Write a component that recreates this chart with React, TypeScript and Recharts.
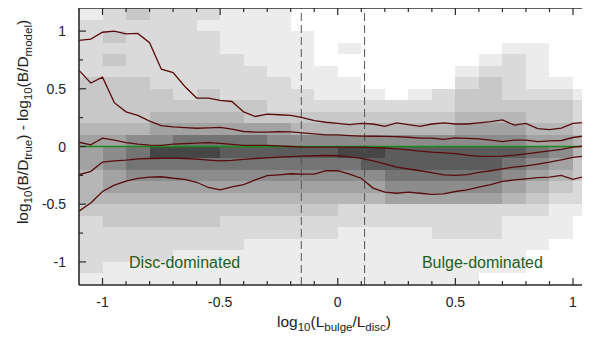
import React from 'react';
import { ComposedChart, Line, XAxis, YAxis, ReferenceArea, ReferenceLine, ReferenceDot } from 'recharts';

// x positions of the percentile curves
const xs = [-1.1, -1.05, -1, -0.95, -0.9, -0.85, -0.8, -0.75, -0.7, -0.65, -0.6, -0.55, -0.5, -0.45, -0.4, -0.35, -0.3, -0.25, -0.2, -0.15, -0.1, -0.05, 0, 0.05, 0.1, 0.15, 0.2, 0.25, 0.3, 0.35, 0.4, 0.45, 0.5, 0.55, 0.6, 0.65, 0.7, 0.75, 0.8, 0.85, 0.9, 0.95, 1, 1.05, 1.068];
const upper2 = [0.92, 0.93, 0.99, 1.0, 0.975, 0.98, 0.9, 0.67, 0.64, 0.52, 0.42, 0.42, 0.4, 0.39, 0.3, 0.26, 0.28, 0.275, 0.27, 0.25, 0.225, 0.21, 0.2, 0.19, 0.2, 0.195, 0.175, 0.205, 0.19, 0.175, 0.195, 0.205, 0.195, 0.195, 0.205, 0.215, 0.23, 0.185, 0.2, 0.155, 0.147, 0.16, 0.2, 0.21, 0.205];
const upper1 = [0.66, 0.55, 0.6, 0.38, 0.3, 0.27, 0.22, 0.18, 0.17, 0.163, 0.158, 0.162, 0.165, 0.15, 0.13, 0.125, 0.124, 0.128, 0.127, 0.118, 0.11, 0.1, 0.1, 0.095, 0.09, 0.089, 0.088, 0.086, 0.08, 0.072, 0.072, 0.062, 0.075, 0.07, 0.066, 0.055, 0.043, 0.055, 0.055, 0.043, 0.048, 0.052, 0.078, 0.092, 0.095];
const median = [0.037, 0.015, 0.072, 0.055, 0.033, 0.02, 0.012, 0.009, 0.02, 0.025, 0.03, 0.033, 0.027, 0.018, 0.01, 0.01, 0.009, 0.005, 0, -0.005, -0.006, -0.006, -0.005, -0.005, -0.006, -0.01, -0.013, -0.02, -0.03, -0.04, -0.049, -0.055, -0.062, -0.075, -0.086, -0.085, -0.083, -0.075, -0.063, -0.05, -0.038, -0.025, -0.006, 0.005, 0.009];
const lower1 = [-0.245, -0.215, -0.135, -0.125, -0.118, -0.108, -0.104, -0.102, -0.101, -0.104, -0.11, -0.118, -0.125, -0.12, -0.112, -0.104, -0.098, -0.092, -0.088, -0.084, -0.08, -0.078, -0.08, -0.09, -0.102, -0.125, -0.15, -0.178, -0.195, -0.21, -0.227, -0.245, -0.25, -0.243, -0.225, -0.21, -0.193, -0.178, -0.168, -0.152, -0.135, -0.115, -0.095, -0.082, -0.078];
const lower2 = [-0.56, -0.49, -0.39, -0.335, -0.3, -0.277, -0.265, -0.262, -0.275, -0.285, -0.31, -0.355, -0.375, -0.35, -0.33, -0.29, -0.253, -0.245, -0.236, -0.24, -0.24, -0.21, -0.21, -0.24, -0.275, -0.36, -0.395, -0.405, -0.395, -0.405, -0.415, -0.41, -0.39, -0.375, -0.352, -0.33, -0.303, -0.29, -0.28, -0.27, -0.265, -0.25, -0.285, -0.26, -0.257];

// 2D histogram: bin edges and density levels (0 = empty .. 9 = densest), rows from top to bottom
const xEdges = [-1.1, -1.0, -0.9, -0.8, -0.7, -0.6, -0.5, -0.4, -0.3, -0.2, -0.1, 0, 0.1, 0.2, 0.3, 0.4, 0.5, 0.6, 0.7, 0.8, 0.9, 1.0, 1.068];
const yEdges = [1.2, 1.1, 1.0, 0.9, 0.8, 0.7, 0.6, 0.5, 0.4, 0.3, 0.2, 0.1, 0, -0.1, -0.2, -0.3, -0.4, -0.5, -0.6, -0.7, -0.8, -0.9, -1.0, -1.1, -1.2];
const densityRows = [
  '1232221110000000000000',
  '2222211110000000000000',
  '2322221111000000000000',
  '2222221111010000001100',
  '2322222111000000012100',
  '2222222211100000122100',
  '3332222221110000232110',
  '3333232222111012332221',
  '3333333322222222333332',
  '3334444333333333444332',
  '4445555554444444555443',
  '5566777766666666666554',
  '5679998888899888888764',
  '5677777777778888887653',
  '4566666666666777776543',
  '4555555555555666665432',
  '4444444444444555554322',
  '3333333333322222222211',
  '2333332222222222221110',
  '2222222222211112221110',
  '2222222111111111111100',
  '2222111111111111111000',
  '2111111111111111111000',
  '1111111111111111100000',
];
const levelGray = [255, 236, 218, 200, 182, 162, 140, 116, 92, 70];

const xDomain = [-1.1, 1.068];
const yDomain = [-1.2, 1.2];
const xTicks = [-1, -0.9, -0.8, -0.7, -0.6, -0.5, -0.4, -0.3, -0.2, -0.1, 0, 0.1, 0.2, 0.3, 0.4, 0.5, 0.6, 0.7, 0.8, 0.9, 1];
const yTicks = [-1, -0.75, -0.5, -0.25, 0, 0.25, 0.5, 0.75, 1];
const dividers = [-0.155, 0.114];
const regionLabels = [
  { x: -0.651, y: -1.05, text: 'Disc-dominated' },
  { x: 0.615, y: -1.05, text: 'Bulge-dominated' },
];

const data = xs.map((x, i) => ({ x, upper2: upper2[i], upper1: upper1[i], median: median[i], lower1: lower1[i], lower2: lower2[i] }));

const FONT = '"Liberation Sans", Arial, Helvetica, sans-serif';
const AX = '#2a2a2a';
const PLOT_W = 510;
const PLOT_H = 277;
const pxX = PLOT_W / (xDomain[1] - xDomain[0]);
const pxY = PLOT_H / (yDomain[1] - yDomain[0]);
const isMajor = (v: number) => Math.abs(v * 2 - Math.round(v * 2)) < 1e-6;
const tickLen = (v: number) => (isMajor(v) ? 7 : 4);
const fmt = (v: number) => String(Math.round(v * 100) / 100);

const BottomTick = (p: any) => {
  const { x, y, payload } = p;
  const major = isMajor(payload.value);
  return (
    <g>
      <line x1={x} x2={x} y1={y} y2={y - tickLen(payload.value)} stroke={AX} strokeWidth={1.2} />
      {major && (
        <text x={x} y={y + 22} textAnchor="middle" fontSize={14} fontFamily={FONT} fill="#222">{fmt(payload.value)}</text>
      )}
    </g>
  );
};
const LeftTick = (p: any) => {
  const { x, y, payload } = p;
  const major = isMajor(payload.value);
  return (
    <g>
      <line x1={x} x2={x + tickLen(payload.value)} y1={y} y2={y} stroke={AX} strokeWidth={1.2} />
      {major && (
        <text x={x - 13} y={y + 5} textAnchor="end" fontSize={14} fontFamily={FONT} fill="#222">{fmt(payload.value)}</text>
      )}
    </g>
  );
};

const XTitle = (p: any) => {
  const vb = p.viewBox || { x: 79, y: 285, width: 510, height: 56 };
  const cx = vb.x + vb.width / 2;
  return (
    <text x={cx} y={vb.y + 42} textAnchor="middle" fontSize={15.5} fontFamily={FONT} fill="#222">
      <tspan>log</tspan>
      <tspan fontSize={11.5} dy={4}>10</tspan>
      <tspan dy={-4}>(L</tspan>
      <tspan fontSize={11.5} dy={4}>bulge</tspan>
      <tspan dy={-4}>/L</tspan>
      <tspan fontSize={11.5} dy={4}>disc</tspan>
      <tspan dy={-4}>)</tspan>
    </text>
  );
};

const YTitle = (p: any) => {
  const vb = p.viewBox || { x: 0, y: 8, width: 79, height: 277 };
  const cx = 28;
  const cy = vb.y + 114;
  return (
    <text x={cx} y={cy} transform={`rotate(-90, ${cx}, ${cy})`} textAnchor="middle" fontSize={15.5} fontFamily={FONT} fill="#222">
      <tspan>log</tspan>
      <tspan fontSize={11.5} dy={4}>10</tspan>
      <tspan dy={-4}>(B/D</tspan>
      <tspan fontSize={11.5} dy={4}>true</tspan>
      <tspan dy={-4}>) - log</tspan>
      <tspan fontSize={11.5} dy={4}>10</tspan>
      <tspan dy={-4}>(B/D</tspan>
      <tspan fontSize={11.5} dy={4}>model</tspan>
      <tspan dy={-4}>)</tspan>
    </text>
  );
};

const RegionText = (text: string) => (p: any) => {
  const vb = p.viewBox || {};
  const cx = vb.cx ?? vb.x;
  const cy = vb.cy ?? vb.y;
  return (
    <text x={cx} y={cy} textAnchor="middle" fontSize={16} fontFamily={FONT} fill="#1f5f1f">{text}</text>
  );
};

const cells: { x1: number; x2: number; y1: number; y2: number; level: number }[] = [];
densityRows.forEach((row, r) => {
  for (let c = 0; c < row.length; c++) {
    const level = Number(row[c]);
    if (level > 0) cells.push({ x1: xEdges[c], x2: xEdges[c + 1], y1: yEdges[r + 1], y2: yEdges[r], level });
  }
});
const grayOf = (level: number) => {
  const g = levelGray[level];
  return `rgb(${g},${g},${g})`;
};

// inward tick marks on the top and right sides of the frame
const tickSegments: { key: string; seg: { x: number; y: number }[] }[] = [];
xTicks.forEach((v, i) => {
  const dy = tickLen(v) / pxY;
  tickSegments.push({ key: `t${i}`, seg: [{ x: v, y: yDomain[1] - dy }, { x: v, y: yDomain[1] }] });
});
yTicks.forEach((v, i) => {
  const dx = tickLen(v) / pxX;
  tickSegments.push({ key: `r${i}`, seg: [{ x: xDomain[1] - dx, y: v }, { x: xDomain[1], y: v }] });
});

const LINE_COLOR = '#5a0c0c';

export default function App() {
  return (
    <div style={{ marginLeft: -8, marginTop: -8, width: 590, height: 341 }}>
      <ComposedChart width={590} height={341} data={data} margin={{ top: 8, right: 1, bottom: 0, left: 0 }}>
        <XAxis
          dataKey="x"
          type="number"
          domain={xDomain}
          allowDataOverflow
          ticks={xTicks}
          interval={0}
          height={56}
          tickSize={0}
          tickMargin={0}
          tickLine={false}
          tick={BottomTick}
          axisLine={false}
          label={<XTitle />}
        />
        <YAxis
          type="number"
          domain={yDomain}
          allowDataOverflow
          ticks={yTicks}
          interval={0}
          width={79}
          tickSize={0}
          tickMargin={0}
          tickLine={false}
          tick={LeftTick}
          axisLine={false}
          label={<YTitle />}
        />
        {cells.map((c, i) => (
          <ReferenceArea
            key={`cell-${i}`}
            x1={c.x1}
            x2={c.x2}
            y1={c.y1}
            y2={c.y2}
            fill={grayOf(c.level)}
            fillOpacity={1}
            stroke="none"
            shapeRendering="crispEdges"
          />
        ))}
        {dividers.map((d) => (
          <ReferenceLine key={`div-${d}`} x={d} stroke="#555" strokeWidth={1} strokeDasharray="8 4" />
        ))}
        <ReferenceLine y={0} stroke="#1a8a1a" strokeWidth={1.5} />
        <Line dataKey="upper2" type="linear" dot={false} stroke={LINE_COLOR} strokeWidth={1.3} isAnimationActive={false} />
        <Line dataKey="upper1" type="linear" dot={false} stroke={LINE_COLOR} strokeWidth={1.3} isAnimationActive={false} />
        <Line dataKey="median" type="linear" dot={false} stroke={LINE_COLOR} strokeWidth={1.3} isAnimationActive={false} />
        <Line dataKey="lower1" type="linear" dot={false} stroke={LINE_COLOR} strokeWidth={1.3} isAnimationActive={false} />
        <Line dataKey="lower2" type="linear" dot={false} stroke={LINE_COLOR} strokeWidth={1.3} isAnimationActive={false} />
        {regionLabels.map((l) => (
          <ReferenceDot key={l.text} x={l.x} y={l.y} r={0} fill="none" stroke="none" label={RegionText(l.text)} />
        ))}
        {tickSegments.map((t) => (
          <ReferenceLine key={t.key} segment={t.seg} stroke={AX} strokeWidth={1.2} ifOverflow="visible" />
        ))}
        <ReferenceLine x={xDomain[0]} stroke={AX} strokeWidth={1.6} ifOverflow="visible" />
        <ReferenceLine x={xDomain[1]} stroke={AX} strokeWidth={1.6} ifOverflow="visible" />
        <ReferenceLine y={yDomain[0]} stroke={AX} strokeWidth={1.6} ifOverflow="visible" />
        <ReferenceLine y={yDomain[1]} stroke={AX} strokeWidth={1.6} ifOverflow="visible" />
      </ComposedChart>
    </div>
  );
}
